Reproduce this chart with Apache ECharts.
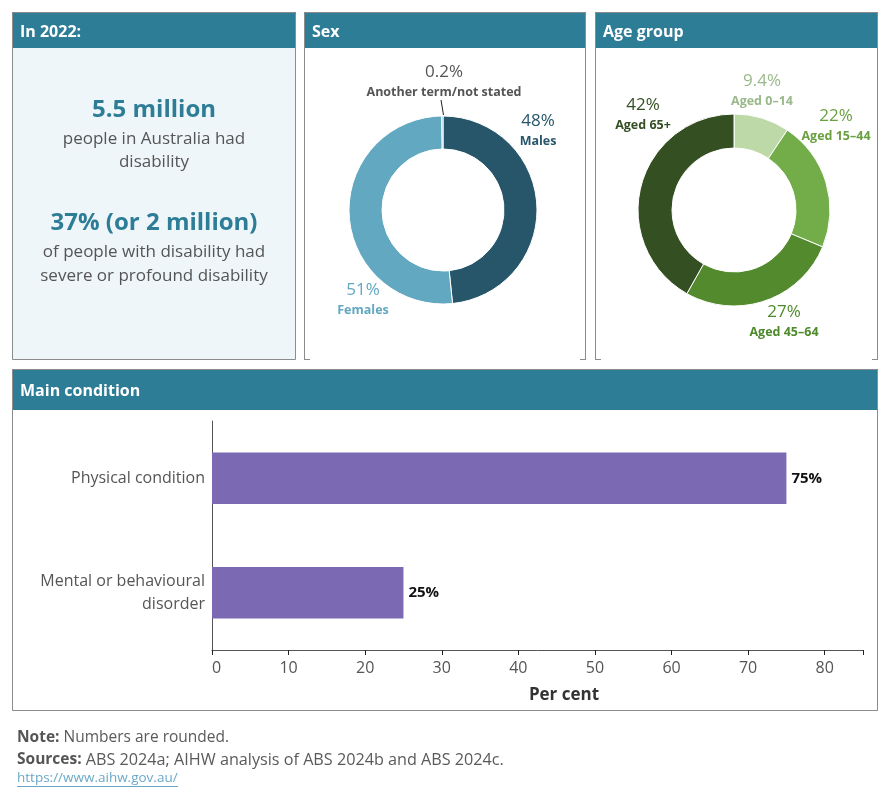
<!DOCTYPE html>
<html>
<head>
<meta charset="utf-8">
<script src="https://cdn.jsdelivr.net/npm/echarts@6/dist/echarts.min.js"></script>
<style>
  html, body { margin: 0; padding: 0; background: #fff; }
  #chart { width: 890px; height: 800px; }
</style>
</head>
<body>
<div id="chart"></div>
<script>
// data
const sexNames = ['Males', 'Females', 'Another term/not stated'];
const sexValues = [48, 51, 0.2];
const sexLabels = ['48%', '51%', '0.2%'];

const ageNames = ['Aged 0–14', 'Aged 15–44', 'Aged 45–64', 'Aged 65+'];
const ageValues = [9.4, 22, 27, 42];
const ageLabels = ['9.4%', '22%', '27%', '42%'];

const conditions = ['Physical condition', 'Mental or behavioural\ndisorder'];
const conditionValues = [75, 25];
const xTicks = [0, 10, 20, 30, 40, 50, 60, 70, 80];

// styling
const FONT = '"Open Sans", "Noto Sans", sans-serif';
const TEAL = '#2e7d96';
const GREY = '#555555';
const BORDER = '#8c8c8c';
const sexColors = ['#27566a', '#62a8c0', '#62a8c0'];
const sexTextColors = ['#27566a', '#62a8c0', '#555555'];
const sexLabelPos = [[538, 131], [363, 300], [444, 82]];
const ageColors = ['#bdd9a8', '#72ad4a', '#528a2d', '#344f22'];
const ageTextColors = ['#9ab98a', '#6aa040', '#4e8a2b', '#344f22'];
const ageLabelPos = [[762, 91], [836, 126], [784, 322], [643, 115]];

const myChart = echarts.init(document.getElementById('chart'));

function panel(x, y, w, h, headH, title, bodyFill, openBottom) {
  const els = [
    { type: 'rect', shape: { x: x, y: y, width: w, height: h }, style: { fill: bodyFill, stroke: null }, z: 0 },
    { type: 'rect', shape: { x: x, y: y, width: w, height: headH }, style: { fill: TEAL }, z: 1 },
    { type: 'text', x: x + 8, y: y + headH / 2 + 2, style: { text: title, fill: '#fff', font: 'bold 16px ' + FONT, verticalAlign: 'middle' }, z: 2 }
  ];
  if (openBottom) {
    els.push({ type: 'polyline', shape: { points: [[x + 0.5, y + h], [x + 0.5, y + 0.5], [x + w - 0.5, y + 0.5], [x + w - 0.5, y + h]] }, style: { stroke: BORDER, lineWidth: 1, fill: null }, z: 3 });
    els.push({ type: 'line', shape: { x1: x, y1: y + h - 0.5, x2: x + 6, y2: y + h - 0.5 }, style: { stroke: BORDER, lineWidth: 1 }, z: 3 });
    els.push({ type: 'line', shape: { x1: x + w - 6, y1: y + h - 0.5, x2: x + w, y2: y + h - 0.5 }, style: { stroke: BORDER, lineWidth: 1 }, z: 3 });
  } else {
    els.push({ type: 'rect', shape: { x: x + 0.5, y: y + 0.5, width: w - 1, height: h - 1 }, style: { fill: null, stroke: BORDER, lineWidth: 1 }, z: 3 });
  }
  return els;
}

function centerText(x, y, text, font, color) {
  return { type: 'text', x: x, y: y, style: { text: text, font: font, fill: color, align: 'center', verticalAlign: 'middle' }, z: 4 };
}

const graphics = [].concat(
  panel(12, 12, 284, 348, 36, 'In 2022:', '#eef6fa', false),
  panel(304, 12, 282, 348, 36, 'Sex', '#ffffff', true),
  panel(595, 12, 283, 348, 36, 'Age group', '#ffffff', true),
  panel(12, 369, 866, 342, 41, 'Main condition', '#ffffff', false),
  [
    centerText(154, 110, '5.5 million', 'bold 24px ' + FONT, TEAL),
    centerText(154, 139, 'people in Australia had', '17px ' + FONT, GREY),
    centerText(154, 162, 'disability', '17px ' + FONT, GREY),
    centerText(154, 223, '37% (or 2 million)', 'bold 24px ' + FONT, TEAL),
    centerText(154, 252, 'of people with disability had', '17px ' + FONT, GREY),
    centerText(154, 276, 'severe or profound disability', '17px ' + FONT, GREY),
    // leader line for the tiny slice
    { type: 'line', shape: { x1: 441, y1: 100, x2: 443.5, y2: 115 }, style: { stroke: '#222', lineWidth: 1 }, z: 5 },
    {
      type: 'text', x: 17, y: 738,
      style: {
        text: '{b|Note:} Numbers are rounded.',
        font: '15.5px ' + FONT, fill: '#5a5a5a', verticalAlign: 'middle',
        rich: { b: { fontWeight: 'bold', fontSize: 15.5, fontFamily: FONT, fill: '#555' } }
      }
    },
    {
      type: 'text', x: 17, y: 760,
      style: {
        text: '{b|Sources:} ABS 2024a; AIHW analysis of ABS 2024b and ABS 2024c.',
        font: '16.2px ' + FONT, fill: '#5a5a5a', verticalAlign: 'middle',
        rich: { b: { fontWeight: 'bold', fontSize: 15.5, fontFamily: FONT, fill: '#555' } }
      }
    },
    { type: 'text', x: 17, y: 778, style: { text: 'https://www.aihw.gov.au/', font: '13.5px ' + FONT, fill: '#6aa8c8', verticalAlign: 'middle' } },
    { type: 'line', shape: { x1: 17, y1: 786.5, x2: 178, y2: 786.5 }, style: { stroke: '#6aa8c8', lineWidth: 1 } }
  ]
);

function pieLabel(texts) {
  return function (p) {
    return '{p' + p.dataIndex + '|' + texts[p.dataIndex] + '}\n{n' + p.dataIndex + '|' + p.name + '}';
  };
}

function richFor(textColors) {
  const r = {};
  textColors.forEach(function (c, i) {
    r['p' + i] = { fontSize: 17, fontFamily: FONT, color: c, lineHeight: 21, align: 'center' };
    r['n' + i] = { fontSize: 12.5, fontWeight: 'bold', fontFamily: FONT, color: c, lineHeight: 19, align: 'center' };
  });
  return r;
}

const option = {
  animation: false,
  graphic: { elements: graphics },
  grid: { left: 212, right: 27, top: 421, bottom: 150, containLabel: false },
  xAxis: {
    type: 'value',
    min: 0,
    max: 85,
    interval: 10,
    axisLine: { show: true, lineStyle: { color: GREY } },
    axisTick: { show: true, lineStyle: { color: '#222' }, length: 5 },
    splitLine: { show: false },
    axisLabel: {
      fontSize: 16, fontFamily: FONT, color: GREY, margin: 10, alignMinLabel: 'left',
      formatter: function (v) { return xTicks.indexOf(v) >= 0 ? String(v) : ''; }
    },
    name: 'Per cent',
    nameLocation: 'middle',
    nameGap: 37,
    nameTextStyle: { fontSize: 17, fontWeight: 'bold', fontFamily: FONT, color: '#333', padding: [0, 0, 0, 53] }
  },
  yAxis: {
    type: 'category',
    data: conditions,
    inverse: true,
    axisLine: { show: true, lineStyle: { color: GREY } },
    axisTick: { show: false },
    axisLabel: { fontSize: 16, fontFamily: FONT, color: GREY, margin: 7, lineHeight: 23, align: 'right', padding: [6, 0, 0, 0] }
  },
  series: [
    {
      type: 'bar',
      data: conditionValues,
      barWidth: '45%',
      itemStyle: { color: '#7b69b3' },
      label: {
        show: true, position: 'right', distance: 5,
        formatter: '{c}%', fontSize: 15, fontWeight: 'bold', fontFamily: FONT, color: '#111'
      }
    },
    {
      type: 'pie',
      center: [443, 210],
      radius: [61, 94],
      startAngle: 90,
      clockwise: true,
      avoidLabelOverlap: false,
      itemStyle: { borderColor: '#fff', borderWidth: 1 },
      data: sexValues.map(function (v, i) {
        return { name: sexNames[i], value: v, itemStyle: { color: sexColors[i] } };
      }),
      label: { show: true, position: 'outside', formatter: pieLabel(sexLabels), rich: richFor(sexTextColors) },
      labelLine: { show: false },
      labelLayout: function (p) {
        const pos = sexLabelPos[p.dataIndex];
        return { x: pos[0], y: pos[1], align: 'center', verticalAlign: 'middle' };
      },
      emphasis: { disabled: true }
    },
    {
      type: 'pie',
      center: [734, 210],
      radius: [62, 96],
      startAngle: 90,
      clockwise: true,
      avoidLabelOverlap: false,
      itemStyle: { borderColor: '#fff', borderWidth: 1 },
      data: ageValues.map(function (v, i) {
        return { name: ageNames[i], value: v, itemStyle: { color: ageColors[i] } };
      }),
      label: { show: true, position: 'outside', formatter: pieLabel(ageLabels), rich: richFor(ageTextColors) },
      labelLine: { show: false },
      labelLayout: function (p) {
        const pos = ageLabelPos[p.dataIndex];
        return { x: pos[0], y: pos[1], align: 'center', verticalAlign: 'middle' };
      },
      emphasis: { disabled: true }
    }
  ]
};

myChart.setOption(option);
</script>
</body>
</html>
